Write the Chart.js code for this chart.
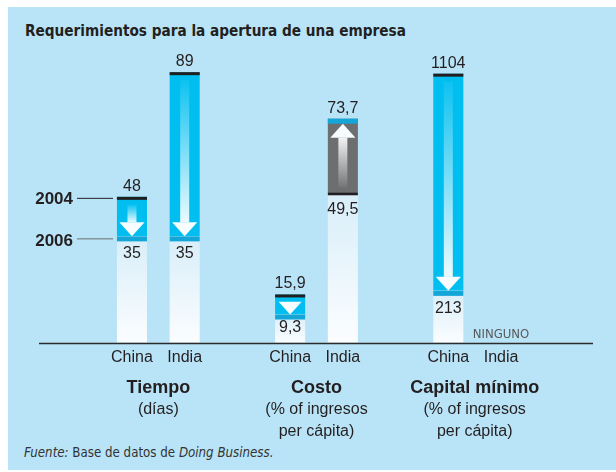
<!DOCTYPE html>
<html>
<head>
<meta charset="utf-8">
<script src="https://cdn.jsdelivr.net/npm/chart.js@4"></script>
<style>
  body { margin: 0; background: #fff; }
  #wrap { position: relative; width: 616px; height: 472px; overflow: hidden; }
  #panel { position: absolute; left: 8px; top: 7px; width: 608px; height: 463px; background: #b9e4f7; }
  #title { position: absolute; left: 25px; top: 22px; font: bold 15.2px "Liberation Sans Narrow", "DejaVu Sans Condensed", sans-serif; color: #231f20; white-space: nowrap; }
  #source { position: absolute; left: 24px; top: 445px; font: 13.2px "Liberation Sans Narrow", "DejaVu Sans Condensed", sans-serif; color: #333; white-space: nowrap; }
  canvas { position: absolute; left: 0; top: 0; }
</style>
</head>
<body>
<div id="wrap">
  <div id="panel"></div>
  <div id="title">Requerimientos para la apertura de una empresa</div>
  <div id="source"><i>Fuente:</i> Base de datos de <i>Doing Business.</i></div>
  <canvas id="chart" width="616" height="472"></canvas>
</div>
<script>
// values
const countries = ["China", "India"];
const groups = ["Tiempo", "Costo", "Capital mínimo"];
const groupUnits = [["(días)"], ["(% of ingresos", "per cápita)"], ["(% of ingresos", "per cápita)"]];
const years = ["2004", "2006"];
const tiempo2004 = [48, 89];
const tiempo2006 = [35, 35];
const costo2004 = [15.9, 49.5];
const costo2006 = [9.3, 73.7];
const capital2004 = [1104, null];
const capital2006 = [213, null];
const noneLabel = "NINGUNO";

const FONT = '"Liberation Sans", sans-serif';
const NARROW = '"Liberation Sans Narrow", "DejaVu Sans Condensed", sans-serif';
const INK = "#231f20";

// slots: China, India, gap, China, India, gap, China, India
const labels = [...countries, "", ...countries, "", ...countries];
const gap = [null];
const old1 = [...tiempo2004, ...gap, ...costo2004, ...gap, null, null];
const new1 = [...tiempo2006, ...gap, ...costo2006, ...gap, null, null];
const old2 = [null, null, null, null, null, null, ...capital2004];
const new2 = [null, null, null, null, null, null, ...capital2006];

function baseOf(olds, news) {
  return news.map((n, i) => (n == null || olds[i] == null) ? null : Math.min(n, olds[i]));
}
function changeOf(olds, news) {
  return news.map((n, i) => (n == null || olds[i] == null) ? null : [Math.min(n, olds[i]), Math.max(n, olds[i])]);
}

function baseFill(c) {
  const chart = c.chart;
  const area = chart.chartArea;
  if (!area || c.raw == null) return "#eef8fd";
  const top = chart.scales[c.dataset.yAxisID].getPixelForValue(c.raw);
  const g = chart.ctx.createLinearGradient(0, top, 0, area.bottom);
  g.addColorStop(0, "#d8eef9");
  g.addColorStop(1, "#fbfdff");
  return g;
}
function changeFill(olds, news) {
  return c => (news[c.dataIndex] > olds[c.dataIndex]) ? "#6d6e70" : "#00bff0";
}

function fmt(v) {
  return String(v).replace(".", ",");
}

const decorations = {
  id: "decorations",
  afterDatasetsDraw(chart) {
    const ctx = chart.ctx;
    const x = chart.scales.x;
    const bottom = chart.chartArea.bottom;
    ctx.save();

    // baseline
    ctx.strokeStyle = "#2b2b2b";
    ctx.lineWidth = 1.5;
    ctx.beginPath();
    ctx.moveTo(39, bottom + 0.75);
    ctx.lineTo(593, bottom + 0.75);
    ctx.stroke();

    [[1, old1, new1], [3, old2, new2]].forEach(([di, olds, news]) => {
      const meta = chart.getDatasetMeta(di);
      const ys = chart.scales[meta.yAxisID];
      meta.data.forEach((bar, i) => {
        if (olds[i] == null || news[i] == null) return;
        const w = bar.width;
        const left = bar.x - w / 2;
        const yOld = ys.getPixelForValue(olds[i]);
        const yNew = ys.getPixelForValue(news[i]);
        const down = yNew > yOld;

        // arrow
        let tip, tail;
        if (down) { tip = yNew; tail = yOld + 3; } else { tip = yNew + 5; tail = yOld; }
        const avail = Math.abs(tip - tail);
        const hh = Math.min(14, avail * 0.75);
        const hw = Math.min(w - 4, hh * 1.8);
        const sw = 9;
        const dir = down ? 1 : -1;
        const headBase = tip - dir * hh;
        const shaftStart = tail + dir * 5;
        if ((headBase - shaftStart) * dir > 0) {
          const g = ctx.createLinearGradient(0, shaftStart, 0, headBase);
          g.addColorStop(0, "rgba(255,255,255,0.05)");
          g.addColorStop(1, "rgba(255,255,255,0.92)");
          ctx.fillStyle = g;
          ctx.fillRect(bar.x - sw / 2, Math.min(shaftStart, headBase), sw, Math.abs(headBase - shaftStart));
        }
        ctx.fillStyle = "#f7fcff";
        ctx.beginPath();
        ctx.moveTo(bar.x - hw / 2, headBase);
        ctx.lineTo(bar.x + hw / 2, headBase);
        ctx.lineTo(bar.x, tip);
        ctx.closePath();
        ctx.fill();

        // old value rule and new value band
        ctx.fillStyle = INK;
        ctx.fillRect(left, yOld, w, 3);
        ctx.fillStyle = "#14a6d7";
        ctx.fillRect(left, yNew, w, 5);

        // value labels
        const hi = Math.max(olds[i], news[i]);
        const lo = Math.min(olds[i], news[i]);
        ctx.fillStyle = INK;
        ctx.font = "16px " + FONT;
        ctx.textAlign = "center";
        ctx.textBaseline = "alphabetic";
        ctx.fillText(fmt(hi), bar.x, ys.getPixelForValue(hi) - 6);
        ctx.fillText(fmt(lo), bar.x, Math.min(ys.getPixelForValue(lo) + 22, bottom - 11));
      });
    });

    // "none" marker where a value is missing
    labels.forEach((lab, i) => {
      if (lab && i >= 6 && old2[i] == null) {
        ctx.fillStyle = "#58595b";
        ctx.font = "13px " + NARROW;
        ctx.textAlign = "center";
        ctx.fillText(noneLabel, x.getPixelForTick(i), bottom - 5);
      }
    });

    // year keys next to the first bar
    const y1 = chart.scales.y;
    const pOld = y1.getPixelForValue(old1[0]);
    const pNew = y1.getPixelForValue(new1[0]);
    ctx.font = "bold 17px " + FONT;
    ctx.textAlign = "right";
    ctx.fillStyle = INK;
    ctx.fillText(years[0], 73, pOld + 7);
    ctx.fillText(years[1], 73, pNew + 10);
    ctx.lineWidth = 1;
    ctx.strokeStyle = INK;
    ctx.beginPath(); ctx.moveTo(77, pOld + 1.5); ctx.lineTo(113, pOld + 1.5); ctx.stroke();
    ctx.strokeStyle = "#6d6e70";
    ctx.beginPath(); ctx.moveTo(77, pNew + 2.5); ctx.lineTo(113, pNew + 2.5); ctx.stroke();

    // group titles
    groups.forEach((name, g) => {
      const cx = (x.getPixelForTick(3 * g) + x.getPixelForTick(3 * g + 1)) / 2;
      ctx.textAlign = "center";
      ctx.fillStyle = INK;
      ctx.font = "bold 18px " + FONT;
      ctx.fillText(name, cx, bottom + 50);
      ctx.font = "16px " + FONT;
      groupUnits[g].forEach((line, k) => ctx.fillText(line, cx, bottom + 71 + 22 * k));
    });
    ctx.restore();
  }
};

new Chart(document.getElementById("chart"), {
  type: "bar",
  data: {
    labels: labels,
    datasets: [
      { data: baseOf(old1, new1), yAxisID: "y", backgroundColor: baseFill, grouped: false },
      { data: changeOf(old1, new1), yAxisID: "y", backgroundColor: changeFill(old1, new1), grouped: false },
      { data: baseOf(old2, new2), yAxisID: "y2", backgroundColor: baseFill, grouped: false },
      { data: changeOf(old2, new2), yAxisID: "y2", backgroundColor: changeFill(old2, new2), grouped: false },
    ],
  },
  options: {
    responsive: false,
    animation: false,
    devicePixelRatio: 1,
    barPercentage: 0.57,
    categoryPercentage: 1,
    layout: { padding: { left: 105.6, right: 88.6, top: 60, bottom: 100 } },
    plugins: { legend: { display: false }, tooltip: { enabled: false } },
    scales: {
      x: {
        grid: { display: false, drawTicks: false },
        border: { display: false },
        ticks: { color: INK, font: { family: FONT, size: 16 }, padding: 5, autoSkip: false, maxRotation: 0 },
      },
      y: { display: false, min: 0, max: 93 },
      y2: { display: false, min: 0, max: 1160 },
    },
  },
  plugins: [decorations],
});
</script>
</body>
</html>
